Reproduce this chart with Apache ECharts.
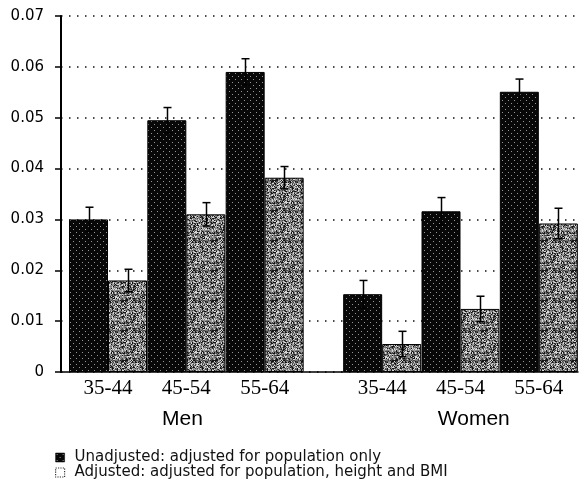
<!DOCTYPE html>
<html>
<head>
<meta charset="utf-8">
<script src="https://cdn.jsdelivr.net/npm/echarts@6/dist/echarts.min.js"></script>
<style>
  html, body { margin: 0; padding: 0; background: #fff; }
  #chart { width: 580px; height: 485px; }
</style>
</head>
<body>
<div id="chart"></div>
<script>
// Age groups shown under each sex
const ageGroups = ['35-44', '45-54', '55-64'];
const sexes = ['Men', 'Women'];
const seriesNames = [
  'Unadjusted: adjusted for population only',
  'Adjusted: adjusted for population, height and BMI'
];
// Values ordered Men 35-44, 45-54, 55-64, then Women 35-44, 45-54, 55-64
const unadjusted    = [0.0300, 0.0495, 0.0590, 0.0153, 0.0316, 0.0551];
const unadjustedErr = [0.0024, 0.0025, 0.0026, 0.0027, 0.0027, 0.0025];
const adjusted      = [0.0180, 0.0310, 0.0382, 0.0055, 0.0124, 0.0292];
const adjustedErr   = [0.0022, 0.0023, 0.0022, 0.0025, 0.0025, 0.0030];
const yTicks = [0, 0.01, 0.02, 0.03, 0.04, 0.05, 0.06, 0.07];

// Layout: each sex block holds the age groups, blocks separated by half a slot
const BLOCK = ageGroups.length + 0.5;
const xPos = [];
const xLabel = [];
sexes.forEach((s, k) => ageGroups.forEach((a, g) => { xPos.push(k * BLOCK + g); xLabel.push(a); }));
const sexPos = sexes.map((s, k) => k * BLOCK + (ageGroups.length - 1) / 2 + (k ? 0.17 : -0.05));

const BAR_W = 39;

// Halftone-like fills for the bars
function makeTexture(size, shade) {
  const c = document.createElement('canvas');
  c.width = c.height = size;
  const ctx = c.getContext('2d');
  const img = ctx.createImageData(size, size);
  for (let y = 0; y < size; y++) {
    for (let x = 0; x < size; x++) {
      const v = shade(x, y);
      const i = (y * size + x) * 4;
      img.data[i] = img.data[i + 1] = img.data[i + 2] = v;
      img.data[i + 3] = 255;
    }
  }
  ctx.putImageData(img, 0, 0);
  return c;
}
const darkTex = makeTexture(6, (x, y) => ((x === 1 && y === 1) || (x === 4 && y === 4)) ? 150 : 8);
const greyLevels = [20, 70, 120, 150, 215];
const greyTex = makeTexture(30, (x, y) => {
  const h = (((x + 3) * 2654435761) ^ ((y + 7) * 40503) ^ (x * y * 97)) >>> 0;
  return greyLevels[(h >>> 5) % greyLevels.length];
});

function errorSeries(name, values, errs, side) {
  return {
    name: name,
    type: 'custom',
    z: 5,
    silent: true,
    data: values.map((v, i) => [xPos[i], v - errs[i], v + errs[i]]),
    renderItem(params, api) {
      const lo = api.coord([api.value(0), api.value(1)]);
      const hi = api.coord([api.value(0), api.value(2)]);
      const x = Math.round(lo[0] + side * BAR_W / 2) + 0.5;
      const cap = 4;
      const st = { stroke: '#000', lineWidth: 1.5 };
      return {
        type: 'group',
        children: [
          { type: 'line', shape: { x1: x, y1: lo[1], x2: x, y2: hi[1] }, style: st },
          { type: 'line', shape: { x1: x - cap, y1: hi[1], x2: x + cap, y2: hi[1] }, style: st },
          { type: 'line', shape: { x1: x - cap, y1: lo[1], x2: x + cap, y2: lo[1] }, style: st }
        ]
      };
    }
  };
}

const xMin = -0.6, xMax = 6.0;

const chart = echarts.init(document.getElementById('chart'), null, { renderer: 'canvas' });
chart.setOption({
  animation: false,
  backgroundColor: '#fff',
  grid: { left: 61, right: 2, top: 16, bottom: 113, containLabel: false },
  legend: {
    orient: 'vertical',
    left: 55,
    top: 450,
    padding: 0,
    itemWidth: 9,
    itemHeight: 9,
    itemGap: 0,
    selectedMode: false,
    textStyle: { fontFamily: 'DejaVu Sans', fontSize: 15, color: '#111', lineHeight: 14, padding: [0, 0, 0, 5] },
    data: [
      { name: seriesNames[0], icon: 'rect', itemStyle: { color: { image: darkTex, repeat: 'repeat' }, borderColor: '#000', borderWidth: 0.5 } },
      { name: seriesNames[1], icon: 'rect', itemStyle: { color: '#fff', borderColor: '#333', borderWidth: 1.2, borderType: 'dotted' } }
    ]
  },
  xAxis: [
    {
      type: 'value',
      position: 'bottom',
      min: xMin,
      max: xMax,
      axisLine: { show: true, onZero: false, lineStyle: { color: '#000', width: 1.5 } },
      axisTick: { show: false },
      splitLine: { show: false },
      axisLabel: {
        customValues: xPos,
        formatter: v => {
          const i = xPos.findIndex(p => Math.abs(p - v) < 1e-6);
          return i >= 0 ? xLabel[i] : '';
        },
        fontFamily: 'Liberation Serif',
        fontSize: 21,
        color: '#000',
        margin: 6
      }
    },
    {
      type: 'value',
      position: 'bottom',
      offset: 0,
      min: xMin,
      max: xMax,
      axisLine: { show: false, onZero: false },
      axisTick: { show: false },
      splitLine: { show: false },
      axisLabel: {
        customValues: sexPos,
        formatter: v => {
          const i = sexPos.findIndex(p => Math.abs(p - v) < 1e-6);
          return i >= 0 ? sexes[i] : '';
        },
        fontFamily: 'Liberation Sans',
        fontSize: 21,
        color: '#000',
        margin: 37
      }
    }
  ],
  yAxis: {
    type: 'value',
    min: yTicks[0],
    max: yTicks[yTicks.length - 1],
    interval: 0.01,
    axisLine: { show: true, onZero: false, lineStyle: { color: '#000', width: 2 } },
    axisTick: { show: true, length: 6, lineStyle: { color: '#000', width: 1.5 } },
    axisLabel: {
      fontFamily: 'DejaVu Sans',
      fontSize: 15,
      color: '#000',
      margin: 17,
      formatter: v => (v === 0 ? '0' : v.toFixed(2))
    },
    splitLine: { show: true, lineStyle: { color: '#111', width: 1.5, type: [1.5, 6.5] } }
  },
  series: [
    {
      name: seriesNames[0],
      type: 'bar',
      barWidth: BAR_W,
      barGap: '0%',
      itemStyle: { color: { image: darkTex, repeat: 'repeat' }, borderColor: '#000', borderWidth: 1 },
      data: unadjusted.map((v, i) => [xPos[i], v])
    },
    {
      name: seriesNames[1],
      type: 'bar',
      barWidth: BAR_W,
      barGap: '0%',
      itemStyle: { color: { image: greyTex, repeat: 'repeat' }, borderColor: '#000', borderWidth: 1 },
      data: adjusted.map((v, i) => [xPos[i], v])
    },
    errorSeries('err-unadjusted', unadjusted, unadjustedErr, -1),
    errorSeries('err-adjusted', adjusted, adjustedErr, 1)
  ]
});
</script>
</body>
</html>
